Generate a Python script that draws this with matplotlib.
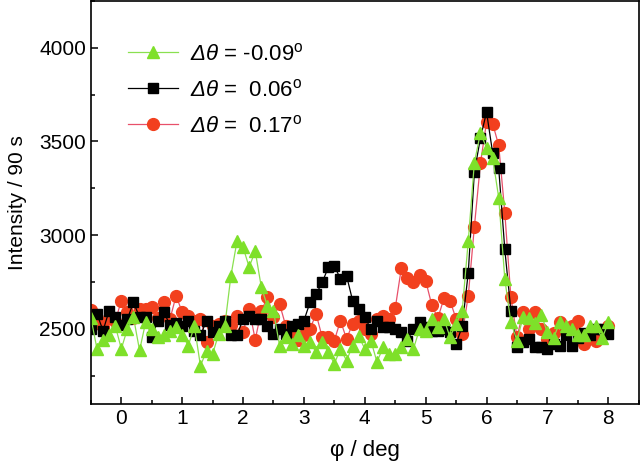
import numpy as np
import matplotlib
matplotlib.use('Agg')
import matplotlib.pyplot as plt
from matplotlib.ticker import MultipleLocator

plt.rcParams['font.family'] = ['Liberation Sans', 'DejaVu Sans']
# italic Greek capitals: mathtext sends them to 'rm', so make rm italic
plt.rcParams['mathtext.fontset'] = 'custom'
plt.rcParams['mathtext.rm'] = 'Liberation Sans:italic'
plt.rcParams['mathtext.it'] = 'Liberation Sans:italic'
plt.rcParams['mathtext.sf'] = 'Liberation Sans'

# phi angle (deg), 0.1 deg step
phi = np.round(np.arange(-0.5, 8.05, 0.1), 2)

# Delta theta = -0.09
int_green = [2560, 2394, 2440, 2465, 2518, 2394, 2500, 2562, 2385, 2537,
             2500, 2457, 2465, 2491, 2509, 2470, 2410, 2516, 2303, 2383,
             2367, 2473, 2516, 2782, 2968, 2936, 2830, 2915, 2723, 2622,
             2596, 2410, 2456, 2420, 2468, 2411, 2429, 2376, 2430, 2376,
             2314, 2394, 2331, 2411, 2461, 2394, 2438, 2323, 2402, 2367,
             2367, 2402, 2447, 2394, 2500, 2491, 2553, 2509, 2553, 2456,
             2527, 2597, 2970, 3387, 3546, 3466, 3413, 3200, 2766, 2535,
             2438, 2562, 2557, 2530, 2574, 2482, 2450, 2535, 2518, 2500,
             2465, 2465, 2514, 2514, 2450, 2535]

# Delta theta = 0.06
int_black = [2500, 2580, 2491, 2597, 2562, 2520, 2553, 2642, 2562, 2562,
             2456, 2544, 2589, 2520, 2530, 2518, 2544, 2491, 2465, 2544,
             2482, 2518, 2544, 2465, 2465, 2553, 2571, 2553, 2553, 2518,
             2473, 2500, 2473, 2518, 2527, 2544, 2642, 2686, 2748, 2828,
             2837, 2766, 2784, 2651, 2606, 2562, 2500, 2544, 2509, 2509,
             2500, 2482, 2438, 2500, 2535, 2509, 2491, 2491, 2500, 2482,
             2420, 2514, 2801, 3337, 3519, 3657, 3440, 3356, 2924, 2597,
             2402, 2429, 2447, 2402, 2402, 2394, 2420, 2411, 2468, 2411,
             2450, 2480, 2470, 2500, 2500, 2473]

# Delta theta = 0.17
int_red = [2600, 2535, 2509, 2560, 2540, 2651, 2589, 2560, 2606, 2606,
           2615, 2560, 2646, 2553, 2677, 2589, 2571, 2540, 2553, 2429,
           2518, 2527, 2540, 2520, 2571, 2482, 2606, 2443, 2597, 2668,
           2562, 2633, 2518, 2482, 2440, 2470, 2500, 2580, 2456, 2456,
           2438, 2544, 2447, 2527, 2544, 2500, 2473, 2553, 2571, 2553,
           2610, 2824, 2770, 2753, 2787, 2757, 2628, 2557, 2663, 2651,
           2553, 2473, 2677, 3045, 3383, 3604, 3596, 3479, 3121, 2668,
           2457, 2589, 2500, 2589, 2500, 2447, 2480, 2535, 2500, 2514,
           2544, 2420, 2465, 2433, 2470, 2518]

fig = plt.figure(figsize=(6.4, 4.68), dpi=100)
ax = fig.add_axes([0.142, 0.137, 0.856, 0.861])

h_red, = ax.plot(phi, int_red, '-o', color='#e8506a', lw=0.9,
                 markerfacecolor='#f2401e', markeredgecolor='#f2401e', markersize=8.5,
                 label=r'$\Delta\theta$ =  0.17$^\mathsf{o}$')
h_black, = ax.plot(phi, int_black, '-s', color='black', lw=0.9,
                   markerfacecolor='black', markeredgecolor='black', markersize=7.5,
                   label=r'$\Delta\theta$ =  0.06$^\mathsf{o}$')
h_green, = ax.plot(phi, int_green, '-^', color='#8ae050', lw=0.9,
                   markerfacecolor='#7ee02a', markeredgecolor='#7ee02a', markersize=9,
                   label=r'$\Delta\theta$ = -0.09$^\mathsf{o}$')

ax.set_xlim(-0.5, 8.5)
ax.set_ylim(2100, 4250)
ax.xaxis.set_major_locator(MultipleLocator(1))
ax.xaxis.set_minor_locator(MultipleLocator(0.5))
ax.yaxis.set_major_locator(MultipleLocator(500))
ax.yaxis.set_minor_locator(MultipleLocator(250))
ax.tick_params(which='both', direction='in', labelsize=15, width=1.1)
ax.tick_params(which='major', length=5)
ax.tick_params(which='minor', length=3)
for s in ax.spines.values():
    s.set_linewidth(1.2)

ax.set_xlabel('φ / deg', fontsize=16, labelpad=9)
ax.set_ylabel('Intensity / 90 s', fontsize=15, labelpad=9)

ax.legend(handles=[h_green, h_black, h_red], loc='upper left',
          bbox_to_anchor=(0.067, 0.895), frameon=False, fontsize=16,
          borderpad=0, borderaxespad=0,
          handlelength=2.25, handletextpad=0.55, labelspacing=0.63)

fig.savefig('out.png', dpi=100)
